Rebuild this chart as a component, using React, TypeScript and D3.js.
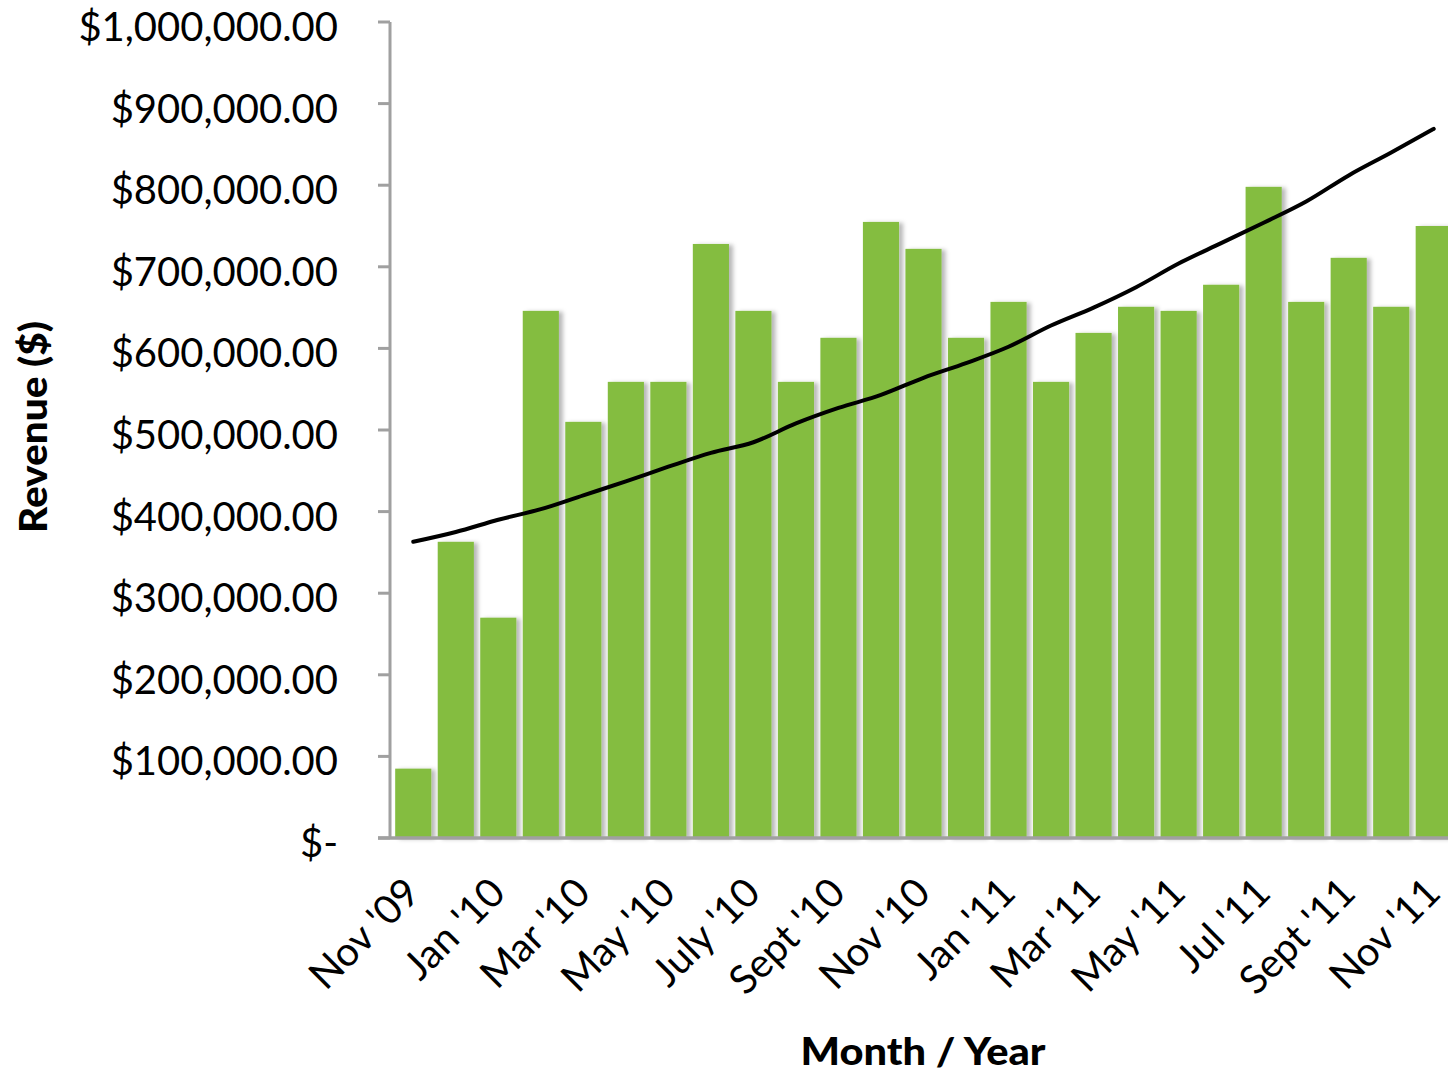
import React from "react";
import * as d3 from "d3";

const months = [
  "Nov '09", "Dec '09", "Jan '10", "Feb '10", "Mar '10", "Apr '10", "May '10", "June '10",
  "July '10", "Aug '10", "Sept '10", "Oct '10", "Nov '10", "Dec '10", "Jan '11", "Feb '11",
  "Mar '11", "Apr '11", "May '11", "Jun '11", "Jul '11", "Aug '11", "Sept '11", "Oct '11", "Nov '11",
];
const revenue = [
  85000, 363000, 270000, 646000, 510000, 559000, 559000, 728000, 646000, 559000, 613000, 755000,
  722000, 613000, 657000, 559000, 619000, 651000, 646000, 678000, 798000, 657000, 711000, 651000, 750000,
];
const trend = [
  363000, 375000, 390000, 403000, 420000, 437000, 455000, 472000, 485000, 508000, 527000, 543000,
  564000, 582000, 602000, 628000, 650000, 675000, 704000, 729000, 754000, 780000, 812000, 840000, 869000,
];
const yTicks = [0, 100000, 200000, 300000, 400000, 500000, 600000, 700000, 800000, 900000, 1000000];

const W = 1448;
const H = 1075;
const axisX = 390;
const bandLeft = 392;
const bandRight = 1455;
const plotTop = 22;
const plotBottom = 838;
const FONT = "Lato, 'Open Sans', sans-serif";

function fmt(v: number) {
  if (v === 0) return "$-";
  return "$" + d3.format(",.2f")(v);
}

export default function App() {
  const x = d3.scaleBand<string>().domain(months).range([bandLeft, bandRight]).paddingInner(0.15).paddingOuter(0.075);
  const y = d3.scaleLinear().domain([0, 1000000]).range([plotBottom, plotTop]);
  const line = d3
    .line<number>()
    .x((_, i) => (x(months[i]) as number) + x.bandwidth() / 2)
    .y((d) => y(d))
    .curve(d3.curveMonotoneX);

  return (
    <svg width={W} height={H} style={{ position: "absolute", left: 0, top: 0, background: "#fff" }}>
      <defs>
        <filter id="shadow" x="-20%" y="-5%" width="150%" height="110%">
          <feDropShadow dx="4" dy="1" stdDeviation="2.2" floodColor="#000" floodOpacity="0.28" />
        </filter>
      </defs>
      {/* bars */}
      <g filter="url(#shadow)">
        {revenue.map((v, i) => (
          <rect
            key={i}
            x={x(months[i]) as number}
            y={y(v)}
            width={x.bandwidth()}
            height={plotBottom - y(v)}
            fill="#84bd40"
          />
        ))}
      </g>
      {/* axes */}
      <line x1={axisX} x2={axisX} y1={plotTop} y2={plotBottom} stroke="#a0a0a0" strokeWidth={3} />
      <line x1={378} x2={W} y1={plotBottom} y2={plotBottom} stroke="#a0a0a0" strokeWidth={3.5} />
      {yTicks.map((t) => (
        <g key={t}>
          <line x1={378} x2={axisX} y1={y(t)} y2={y(t)} stroke="#a0a0a0" strokeWidth={3} />
          <text x={338} y={y(t) + 19} textAnchor="end" fontFamily={FONT} fontSize={40} fill="#000">
            {fmt(t)}
          </text>
        </g>
      ))}
      {/* trend line */}
      <path d={line(trend) || ""} fill="none" stroke="#000" strokeWidth={4} strokeLinecap="round" />
      {/* x labels */}
      {months.map((m, i) =>
        i % 2 === 0 ? (
          <text
            key={m}
            transform={`translate(${(x(m) as number) + x.bandwidth() / 2 + 9},${895}) rotate(-45)`}
            textAnchor="end"
            fontFamily={FONT}
            fontSize={40}
            fill="#000"
          >
            {m}
          </text>
        ) : null
      )}
      {/* axis titles */}
      <text
        transform={`translate(47,427) rotate(-90)`}
        textAnchor="middle"
        fontFamily={FONT}
        fontWeight="900"
        fontSize={37}
        textLength={212}
        lengthAdjust="spacingAndGlyphs"
        fill="#000"
      >
        Revenue ($)
      </text>
      <text
        x={923}
        y={1065}
        textAnchor="middle"
        fontFamily={FONT}
        fontWeight="900"
        fontSize={37}
        textLength={245}
        lengthAdjust="spacingAndGlyphs"
        fill="#000"
      >
        Month / Year
      </text>
    </svg>
  );
}
